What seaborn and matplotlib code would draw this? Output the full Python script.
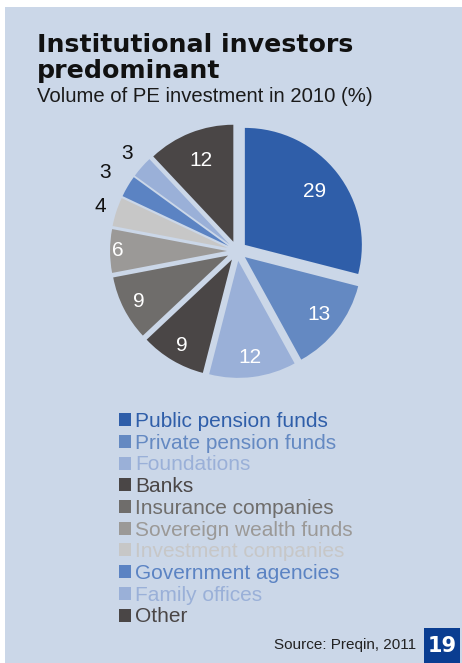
import matplotlib
matplotlib.use("Agg")
import matplotlib.pyplot as plt
import seaborn as sns
import numpy as np
from matplotlib.patches import Rectangle

# ---- data ----
categories = ["Public pension funds", "Private pension funds", "Foundations", "Banks",
              "Insurance companies", "Sovereign wealth funds", "Investment companies",
              "Government agencies", "Family offices", "Other"]
values = [29, 13, 12, 9, 9, 6, 4, 3, 3, 12]
colors = ["#2F5EA9", "#6489C2", "#9AB0D8", "#4A4646", "#6F6D6B",
          "#9B9997", "#C7C7C7", "#5B83C3", "#9AB0D8", "#4A4646"]
label_colors = ["white"] * 6 + ["#111111"] * 3 + ["white"]
label_dist = [0.75, 0.80, 0.83, 0.85, 0.86, 0.93, 1.14, 1.23, 1.17, 0.75]

title_lines = ["Institutional investors", "predominant"]
subtitle = "Volume of PE investment in 2010 (%)"
source = "Source: Preqin, 2011"
page = "19"

BG = "#CBD7E8"

sns.set_theme(style="white")
plt.rcParams["font.family"] = ["Liberation Sans", "DejaVu Sans"]

W, H = 462, 663
fig = plt.figure(figsize=(W / 100, H / 100), dpi=100)
fig.patch.set_facecolor("white")
fig.add_artist(Rectangle((5 / W, 0), (W - 5) / W, (H - 7) / H, transform=fig.transFigure,
                         facecolor=BG, edgecolor="none", zorder=0))

# pie axes: center (237, 251) px from top-left, radius 117 px
R = 117
cx, cy = 237, 251
half = 1.4 * R
ax = fig.add_axes([(cx - half) / W, (H - cy - half) / H, 2 * half / W, 2 * half / H])
ax.set_facecolor("none")
wedges, _ = ax.pie(values, colors=colors, startangle=90, counterclock=False,
                   explode=[0.085] * len(values), radius=1.0,
                   wedgeprops=dict(edgecolor="none", linewidth=0))
ax.set_xlim(-1.4, 1.4)
ax.set_ylim(-1.4, 1.4)
ax.set_aspect("equal")
ax.axis("off")

for w, v, c, d in zip(wedges, values, label_colors, label_dist):
    ang = np.deg2rad((w.theta1 + w.theta2) / 2)
    ox, oy = w.center
    ax.text(ox + d * np.cos(ang), oy + d * np.sin(ang), str(v), color=c,
            fontsize=15, ha="center", va="center")

# titles
fig.text(37 / W, 1 - 52 / H, title_lines[0], fontsize=18.2, fontweight="bold",
         family="DejaVu Sans", color="#111111", va="baseline", ha="left")
fig.text(37 / W, 1 - 78 / H, title_lines[1], fontsize=18.2, fontweight="bold",
         family="DejaVu Sans", color="#111111", va="baseline", ha="left")
fig.text(37 / W, 1 - 102 / H, subtitle, fontsize=14.6, color="#1A1A1A",
         va="baseline", ha="left")

# legend
leg = fig.legend(wedges, categories, loc="upper left",
                 bbox_to_anchor=(119 / W, 1 - 412 / H), frameon=False,
                 fontsize=15, handlelength=0.58, handleheight=0.58,
                 handletextpad=0.2, labelspacing=0.13, borderpad=0, borderaxespad=0)
for t, c in zip(leg.get_texts(), colors):
    t.set_color(c)

# source and page badge
fig.text(416 / W, 1 - 649 / H, source, fontsize=11, color="#222222",
         ha="right", va="baseline")
fig.add_artist(Rectangle((424 / W, 0), 36 / W, 35 / H, transform=fig.transFigure,
                         facecolor="#0A3D91", edgecolor="none"))
fig.text(442 / W, 1 - 646 / H, page, fontsize=15, fontweight="bold", color="white",
         family="DejaVu Sans", ha="center", va="center")

fig.savefig("out.png", dpi=100, facecolor=fig.get_facecolor())
